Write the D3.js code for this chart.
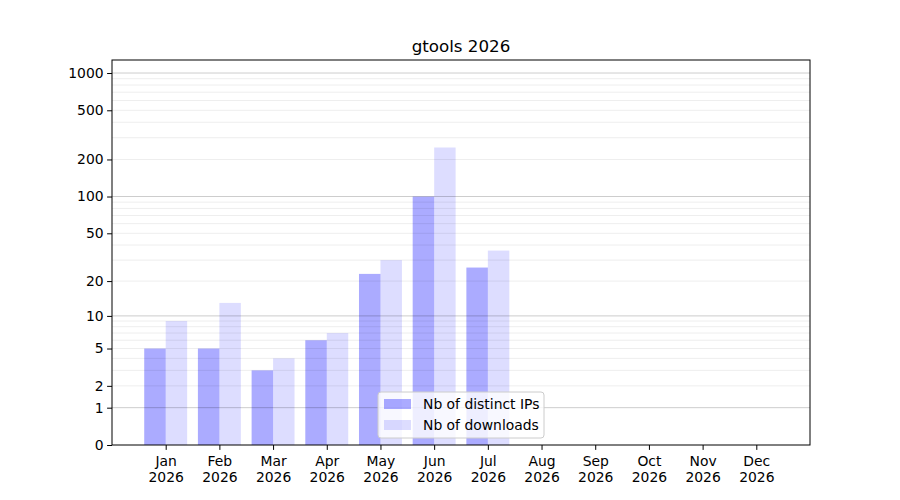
<!DOCTYPE html>
<html>
<head>
<meta charset="utf-8">
<script src="https://cdn.jsdelivr.net/npm/d3@7"></script>
<style>
  body { margin: 0; background: white; }
  text { font-family: "DejaVu Sans", sans-serif; fill: black; }
</style>
</head>
<body>
<div id="plot"></div>
<script>
// Chart data
const months = ["Jan", "Feb", "Mar", "Apr", "May", "Jun", "Jul", "Aug", "Sep", "Oct", "Nov", "Dec"];
const year = "2026";
const distinctIPs = [5, 5, 3, 6, 23, 100, 26, 0, 0, 0, 0, 0];
const downloads = [9, 13, 4, 7, 30, 250, 36, 0, 0, 0, 0, 0];
const yTicks = [0, 1, 2, 5, 10, 20, 50, 100, 200, 500, 1000];
const seriesNames = ["Nb of distinct IPs", "Nb of downloads"];

// Dimensions
const margin = {top: 60, right: 90, bottom: 55, left: 112};
const width = 900 - margin.left - margin.right;
const height = 500 - margin.top - margin.bottom;

const svg = d3.select("#plot")
    .append("svg")
    .attr("width", 900)
    .attr("height", 500)
    .append("g")
    .attr("transform", `translate(${margin.left},${margin.top})`);

// Scales: months sit at 1..12, axis spans 0..13
const x = d3.scaleLinear()
    .domain([0, 13])
    .range([0, width]);

const y = d3.scaleSymlog()
    .constant(1)
    .domain([0, 1274])
    .range([height, 0]);

const barW = x(0.4) - x(0);

// Bars (semi-transparent blue, like the original)
svg.selectAll(".ip")
    .data(distinctIPs)
    .enter()
    .append("rect")
    .attr("x", (d, i) => x(i + 1) - barW)
    .attr("y", d => y(d))
    .attr("width", barW)
    .attr("height", d => y(0) - y(d))
    .attr("fill", "blue")
    .attr("fill-opacity", 0.33);

svg.selectAll(".dl")
    .data(downloads)
    .enter()
    .append("rect")
    .attr("x", (d, i) => x(i + 1))
    .attr("y", d => y(d))
    .attr("width", barW)
    .attr("height", d => y(0) - y(d))
    .attr("fill", "blue")
    .attr("fill-opacity", 0.135);

// Grid lines: minor at 2..9 x 10^k, major at powers of ten
const minor = [];
[1, 10, 100].forEach(p => {
    for (let k = 2; k <= 9; k++) minor.push(k * p);
});
const major = [1, 10, 100, 1000];

svg.selectAll(".minor")
    .data(minor.filter(v => v <= y.domain()[1]))
    .enter()
    .append("line")
    .attr("x1", 0)
    .attr("x2", width)
    .attr("y1", d => y(d))
    .attr("y2", d => y(d))
    .attr("stroke", "#000")
    .attr("stroke-opacity", 0.07)
    .attr("stroke-width", 1);

svg.selectAll(".major")
    .data(major)
    .enter()
    .append("line")
    .attr("x1", 0)
    .attr("x2", width)
    .attr("y1", d => y(d))
    .attr("y2", d => y(d))
    .attr("stroke", "#000")
    .attr("stroke-opacity", 0.2)
    .attr("stroke-width", 1);

// Axes
const xAxis = svg.append("g")
    .attr("transform", `translate(0,${height})`)
    .call(d3.axisBottom(x)
        .tickValues(d3.range(1, 13))
        .tickSize(4.9)
        .tickPadding(3)
        .tickFormat(""));

xAxis.select(".domain").remove();
xAxis.selectAll(".tick").each(function(d) {
    const t = d3.select(this).append("text")
        .attr("text-anchor", "middle")
        .style("font-size", "13.9px");
    t.append("tspan").attr("x", 0).attr("y", 21).text(months[d - 1]);
    t.append("tspan").attr("x", 0).attr("y", 37).text(year);
});

const yAxis = svg.append("g")
    .call(d3.axisLeft(y)
        .tickValues(yTicks)
        .tickSize(4.9)
        .tickPadding(3.5)
        .tickFormat(d3.format("d")));
yAxis.select(".domain").remove();
yAxis.selectAll("text")
    .style("font-size", "13.9px")
    .attr("font-family", "DejaVu Sans");

// Frame
svg.append("rect")
    .attr("x", 0)
    .attr("y", 0)
    .attr("width", width)
    .attr("height", height)
    .attr("fill", "none")
    .attr("stroke", "black")
    .attr("stroke-width", 1);

// Title
svg.append("text")
    .attr("x", width / 2)
    .attr("y", -8.5)
    .attr("text-anchor", "middle")
    .style("font-size", "16.7px")
    .text("gtools 2026");

// Legend
const legend = svg.append("g")
    .attr("transform", `translate(${378 - margin.left},${392 - margin.top})`);

legend.append("rect")
    .attr("width", 166)
    .attr("height", 46)
    .attr("rx", 3)
    .attr("fill", "white")
    .attr("fill-opacity", 0.8)
    .attr("stroke", "#cccccc");

seriesNames.forEach((name, i) => {
    legend.append("rect")
        .attr("x", 6)
        .attr("y", 7 + i * 21)
        .attr("width", 27)
        .attr("height", 10)
        .attr("fill", "blue")
        .attr("fill-opacity", i === 0 ? 0.33 : 0.135);
    legend.append("text")
        .attr("x", 45)
        .attr("y", 17 + i * 21)
        .style("font-size", "13.9px")
        .text(name);
});
</script>
</body>
</html>
